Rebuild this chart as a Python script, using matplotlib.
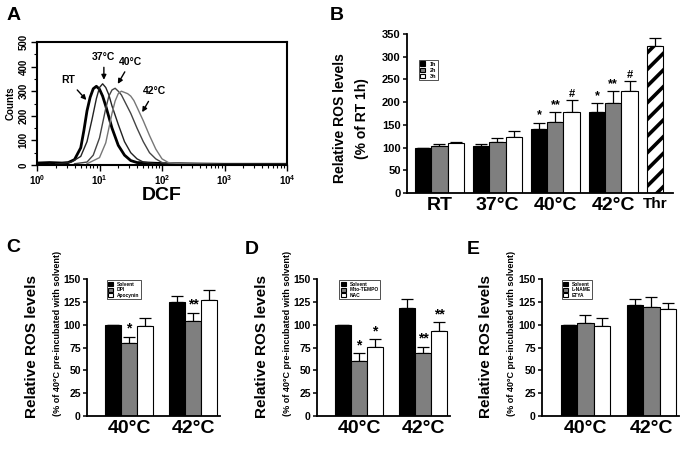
import numpy as np
import matplotlib
matplotlib.use("Agg")
from matplotlib import pyplot as plt
from matplotlib.ticker import MultipleLocator

plt.rcParams["font.family"] = ["Liberation Sans", "DejaVu Sans"]
plt.rcParams["font.weight"] = "bold"
plt.rcParams["axes.labelweight"] = "bold"
plt.rcParams["hatch.linewidth"] = 2.6

# ---- panel A: flow histograms (log10 DCF, counts)
rt_logx = [0.0, 0.2, 0.4, 0.5, 0.6, 0.7, 0.75, 0.8, 0.85, 0.9, 0.95, 1.0, 1.05, 1.1,
           1.15, 1.2, 1.3, 1.4, 1.5, 1.6, 1.8, 2.0, 2.3, 2.6, 3.0, 3.5, 4.0]
rt_counts = [8, 10, 8, 10, 22, 70, 140, 220, 275, 310, 320, 308, 280, 240,
             195, 150, 80, 40, 18, 10, 8, 6, 5, 4, 3, 3, 3]
c37_logx = [0.3, 0.45, 0.55, 0.7, 0.8, 0.88, 0.95, 1.0, 1.05, 1.1, 1.15, 1.2,
            1.3, 1.4, 1.5, 1.6, 1.7, 1.9, 2.2, 3.0, 4.0]
c37_counts = [4, 8, 12, 35, 95, 185, 270, 315, 330, 315, 285, 240,
              165, 95, 50, 25, 12, 5, 3, 2, 2]
c40_logx = [0.6, 0.8, 0.9, 1.0, 1.05, 1.1, 1.15, 1.2, 1.25, 1.3, 1.35, 1.4, 1.5,
            1.6, 1.7, 1.8, 1.9, 2.0, 2.2, 3.0, 4.0]
c40_counts = [5, 12, 40, 110, 170, 230, 280, 305, 312, 300, 285, 260, 210,
              150, 95, 50, 25, 10, 5, 2, 2]
c42_logx = [0.8, 1.0, 1.1, 1.15, 1.2, 1.25, 1.3, 1.35, 1.4, 1.45, 1.5, 1.55, 1.6,
            1.7, 1.8, 1.9, 2.0, 2.1, 2.3, 3.0, 4.0]
c42_counts = [5, 30, 90, 150, 210, 260, 290, 300, 295, 290, 280, 262, 235,
              180, 120, 65, 25, 10, 5, 2, 2]

# ---- panel B
b_groups = ["RT", "37°C", "40°C", "42°C"]
b_1h = [100, 104, 141, 178]
b_1h_err = [0, 4, 14, 20]
b_2h = [104, 112, 157, 199]
b_2h_err = [4, 8, 21, 25]
b_3h = [109, 124, 179, 224]
b_3h_err = [4, 12, 26, 22]
b_thr = 324
b_thr_err = 17
b_marks_1h = ["", "", "*", "*"]
b_marks_2h = ["", "", "**", "**"]
b_marks_3h = ["", "", "#", "#"]

# ---- panels C, D, E
temps = ["40°C", "42°C"]
c_names = ["Solvent", "DPI", "Apocynin"]
c_vals = [[100, 125], [80, 104], [99, 127]]
c_errs = [[0, 6], [7, 9], [8, 11]]
c_marks = [["", ""], ["*", "**"], ["", ""]]
d_names = ["Solvent", "Mito-TEMPO", "NAC"]
d_vals = [[100, 118], [60, 69], [76, 93]]
d_errs = [[0, 10], [9, 7], [8, 10]]
d_marks = [["", ""], ["*", "**"], ["*", "**"]]
e_names = ["Solvent", "L-NAME", "ETYA"]
e_vals = [[100, 121], [102, 119], [99, 117]]
e_errs = [[0, 7], [9, 11], [8, 7]]

bar_colors = ["black", "#7f7f7f", "white"]

W, H = 683, 449
fig = plt.figure(figsize=(W / 100, H / 100), dpi=100)


def px_axes(left, right, top, bottom):
    return fig.add_axes([left / W, 1 - bottom / H, (right - left) / W, (bottom - top) / H])


def panel_label(x, y, s):
    fig.text(x / W, 1 - y / H, s, fontsize=14, fontweight="bold", ha="center", va="center")


def bar_style(ax, ysize=8):
    for s in ["top", "right"]:
        ax.spines[s].set_visible(False)
    for s in ["left", "bottom"]:
        ax.spines[s].set_linewidth(1.3)
    ax.tick_params(axis="x", length=0, labelsize=14, pad=3)
    ax.tick_params(axis="y", labelsize=ysize, width=1.1, length=3, pad=1.5)


def errbar(ax, x, y, e):
    ax.errorbar(x, y, yerr=[np.zeros(len(e)), e], fmt="none", ecolor="black",
                elinewidth=0.9, capsize=4, capthick=0.9, zorder=1)


# ---------------- A
axA = px_axes(37, 287, 42, 165)
axA.plot(10 ** np.array(rt_logx), rt_counts, color="black", lw=2.0)
axA.plot(10 ** np.array(c37_logx), c37_counts, color="#222222", lw=1.0)
axA.plot(10 ** np.array(c40_logx), c40_counts, color="#444444", lw=1.0)
axA.plot(10 ** np.array(c42_logx), c42_counts, color="#777777", lw=1.0)
axA.set_xscale("log")
axA.set_xlim(1, 1e4)
axA.set_ylim(0, 500)
axA.yaxis.set_major_locator(MultipleLocator(100))
axA.yaxis.set_minor_locator(MultipleLocator(50))
for s in axA.spines.values():
    s.set_linewidth(1.5)
axA.tick_params(axis="both", which="major", labelsize=7, width=1, length=4, pad=2)
axA.tick_params(axis="both", which="minor", width=0.8, length=2)
for lab in axA.get_yticklabels():
    lab.set_rotation(90)
    lab.set_va("center")
axA.set_ylabel("Counts", fontsize=7, labelpad=2)
axA.set_xlabel("DCF", fontsize=14, labelpad=0)
arrow = dict(arrowstyle="-|>", color="black", lw=1.0, mutation_scale=7)
axA.annotate("RT", xy=(10 ** 0.82, 256), xytext=(10 ** 0.50, 345), fontsize=7.5,
             ha="center", va="center", arrowprops=arrow)
axA.annotate("37°C", xy=(10 ** 1.07, 335), xytext=(10 ** 1.07, 440), fontsize=7.5,
             ha="center", va="center", arrowprops=arrow)
axA.annotate("40°C", xy=(10 ** 1.27, 320), xytext=(10 ** 1.50, 420), fontsize=7.5,
             ha="center", va="center", arrowprops=arrow)
axA.annotate("42°C", xy=(10 ** 1.66, 205), xytext=(10 ** 1.88, 300), fontsize=7.5,
             ha="center", va="center", arrowprops=arrow)
panel_label(14, 16, "A")

# ---------------- B
axB = px_axes(407, 673, 34, 193)
w = 0.28
x = np.arange(len(b_groups))
for k, (vals, errs, marks) in enumerate([(b_1h, b_1h_err, b_marks_1h),
                                         (b_2h, b_2h_err, b_marks_2h),
                                         (b_3h, b_3h_err, b_marks_3h)]):
    xs = x + (k - 1) * w
    axB.bar(xs, vals, w, color=bar_colors[k], edgecolor="black", lw=0.8, zorder=2,
            label=["1h", "2h", "3h"][k])
    errbar(axB, xs, vals, errs)
    for xi, v, e, m in zip(xs, vals, errs, marks):
        if m:
            axB.text(xi, v + e + 3, m, ha="center", va="bottom", fontsize=9 if m != "#" else 8)
thr_x = len(b_groups) - w
axB.bar([thr_x], [b_thr], w, color="white", edgecolor="black", lw=0.8, hatch="//", zorder=2)
errbar(axB, [thr_x], [b_thr], [b_thr_err])
axB.set_xlim(-0.56, 4.03)
axB.set_ylim(0, 350)
axB.yaxis.set_major_locator(MultipleLocator(50))
bar_style(axB)
axB.set_xticks(list(x) + [thr_x])
axB.set_xticklabels(b_groups + ["Thr"])
axB.get_xticklabels()[-1].set_fontsize(11)
axB.text(-0.25, 0.47, "Relative ROS levels", transform=axB.transAxes, rotation=90,
         fontsize=10, ha="center", va="center")
axB.text(-0.17, 0.47, "(% of RT 1h)", transform=axB.transAxes, rotation=90,
         fontsize=10, ha="center", va="center")
axB.legend(loc="upper left", bbox_to_anchor=(0.034, 0.855), fontsize=4, frameon=True,
           fancybox=False, edgecolor="black", handlelength=0.9, handleheight=0.9,
           borderpad=0.3, labelspacing=0.15, handletextpad=0.8).get_frame().set_linewidth(0.6)
panel_label(337, 16, "B")


def small_panel(left, right, names, vals, errs, marks, label, lx, ly, leg_x):
    ax = px_axes(left, right, 279, 416)
    ww = 0.25
    xx = np.arange(len(temps))
    for k in range(3):
        xs = xx + (k - 1) * ww
        ax.bar(xs, vals[k], ww, color=bar_colors[k], edgecolor="black", lw=0.8,
               zorder=2, label=names[k])
        errbar(ax, xs, vals[k], errs[k])
        if marks is not None:
            for xi, v, e, m in zip(xs, vals[k], errs[k], marks[k]):
                if m:
                    ax.text(xi, v + e + 1, m, ha="center", va="bottom", fontsize=10)
    ax.set_xlim(-0.66, 1.42)
    ax.set_ylim(0, 150)
    ax.yaxis.set_major_locator(MultipleLocator(25))
    bar_style(ax, ysize=7.5)
    ax.set_xticks(xx)
    ax.set_xticklabels(temps)
    ax.text(-0.41, 0.51, "Relative ROS levels", transform=ax.transAxes, rotation=90,
            fontsize=11, ha="center", va="center")
    ax.text(-0.225, 0.6, "(% of 40°C pre-incubated with solvent)", transform=ax.transAxes,
            rotation=90, fontsize=6.5, ha="center", va="center")
    leg = ax.legend(loc="upper left", bbox_to_anchor=(leg_x, 1.01), fontsize=3.5,
                    frameon=True, fancybox=False, edgecolor="black", handlelength=1.0,
                    handleheight=0.9, borderpad=0.3, labelspacing=0.15, handletextpad=0.8)
    leg.get_frame().set_linewidth(0.6)
    panel_label(lx, ly, label)
    return ax


small_panel(87, 220, c_names, c_vals, c_errs, c_marks, "C", 13, 247, 0.13)
small_panel(317, 450, d_names, d_vals, d_errs, d_marks, "D", 252, 249, 0.15)
small_panel(542, 679, e_names, e_vals, e_errs, None, "E", 473, 250, 0.125)

fig.savefig("out.png", dpi=100)
